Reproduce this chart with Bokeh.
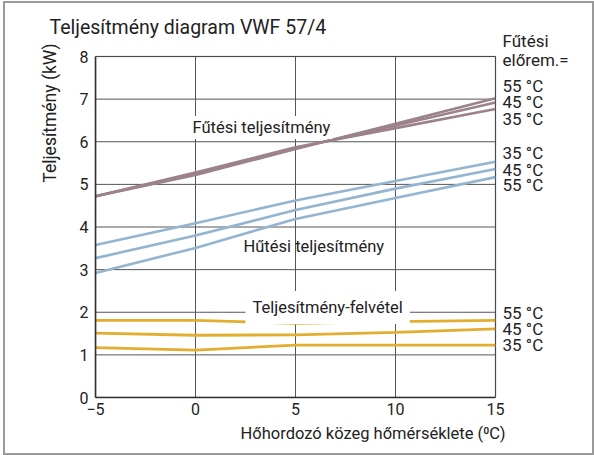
import math
from bokeh.plotting import figure
from bokeh.models import (Range1d, Label, BoxAnnotation, FixedTicker,
                          LinearAxis, Title)
from bokeh.embed import file_html
from bokeh.resources import INLINE

# ---- data ----
x_temps = [-5, 0, 5, 10, 15]
x_ticks = [-5, 0, 5, 10, 15]
y_ticks = [0, 1, 2, 3, 4, 5, 6, 7, 8]

heat_55 = [4.72, 5.22, 5.83, 6.42, 7.02]
heat_45 = [4.72, 5.25, 5.85, 6.38, 6.92]
heat_35 = [4.72, 5.28, 5.87, 6.32, 6.77]

cool_35 = [3.58, 4.09, 4.62, 5.08, 5.53]
cool_45 = [3.27, 3.80, 4.40, 4.90, 5.36]
cool_55 = [2.92, 3.51, 4.19, 4.68, 5.17]

pow_55 = [1.81, 1.81, 1.74, 1.78, 1.81]
pow_45 = [1.51, 1.46, 1.47, 1.53, 1.61]
pow_35 = [1.17, 1.11, 1.23, 1.23, 1.23]

title_text = "Teljesítmény diagram VWF 57/4"
y_title = "Teljesítmény (kW)"
x_title = "Hőhordozó közeg hőmérséklete (⁰C)"
heat_label = "Fűtési teljesítmény"
cool_label = "Hűtési teljesítmény"
pow_label = "Teljesítmény-felvétel"
legend_head = ["Fűtési", "előrem.="]
heat_order = ["55 °C", "45 °C", "35 °C"]
cool_order = ["35 °C", "45 °C", "55 °C"]
pow_order = ["55 °C", "45 °C", "35 °C"]

HEAT = "#9b8389"
COOL = "#93b5d2"
POW = "#e3ae2f"
FONT = "Roboto"
TXT = "#222222"
DARK = "#333333"
GRID = "#555555"

PX_PER_KW = 341 / 8.0      # vertical scale of the reference
PX_PER_C = 20.0            # horizontal scale of the reference

# canvas sits at (5, 3) on the page: 3px/1px margin + 2px page-frame border
p = figure(frame_width=402, frame_height=359,
           min_border_left=90, min_border_right=95,
           min_border_top=35, min_border_bottom=56,
           x_range=Range1d(-5, 15 + 2 / PX_PER_C),
           y_range=Range1d(0, 8 + 18 / PX_PER_KW),
           output_backend="svg", toolbar_location=None,
           background_fill_color="white", border_fill_color="white")
p.styles = {"border": "2px solid #9a9a9a", "margin-left": "3px", "margin-top": "1px"}

# pixel rows (page coordinates) for the right-hand labels: frame top 38px, y=0 at 397px
p.extra_y_ranges = {"px": Range1d(start=397, end=38)}

def dx(px):
    return (px - 95) / PX_PER_C - 5

def dy(py):
    return (397 - py) / PX_PER_KW

p.outline_line_color = None
p.grid.visible = False

for ax in (p.xaxis[0], p.yaxis[0]):
    ax.axis_line_color = DARK
    ax.axis_line_width = 1.6
    ax.major_tick_line_color = None
    ax.minor_tick_line_color = None
    ax.major_tick_out = 0
    ax.major_tick_in = 0
    ax.major_label_text_font = FONT
    ax.major_label_text_font_size = "16px"
    ax.major_label_text_color = TXT

p.xaxis.ticker = FixedTicker(ticks=x_ticks)
p.yaxis.ticker = FixedTicker(ticks=y_ticks)
p.xaxis.bounds = (x_ticks[0], x_ticks[-1])
p.yaxis.bounds = (y_ticks[0], y_ticks[-1])
p.xaxis.major_label_standoff = 5
p.yaxis.major_label_standoff = 7

# grid lines inside the 0..8 / -5..15 box
n_x, n_y = len(x_ticks), len(y_ticks)
p.segment(x0=x_ticks, y0=[y_ticks[0]] * n_x, x1=x_ticks, y1=[y_ticks[-1]] * n_x,
          line_color=GRID, line_width=1)
p.segment(x0=[x_ticks[0]] * n_y, y0=y_ticks, x1=[x_ticks[-1]] * n_y, y1=y_ticks,
          line_color=GRID, line_width=1)

for ys in (heat_35, heat_45, heat_55):
    p.line(x_temps, ys, line_color=HEAT, line_width=2.6)
for ys in (cool_35, cool_45, cool_55):
    p.line(x_temps, ys, line_color=COOL, line_width=2.6)
for ys in (pow_35, pow_45, pow_55):
    p.line(x_temps, ys, line_color=POW, line_width=2.8)

p.add_layout(BoxAnnotation(left=x_ticks[0], right=x_ticks[-1],
                           bottom=y_ticks[0], top=y_ticks[-1],
                           fill_color=None, line_color=DARK, line_width=1.6))

# right-hand labels as tick labels of an extra axis
right_rows = [40, 59, 85, 101.5, 118, 152.5, 169, 184.5, 312, 328, 344]
right_texts = legend_head + heat_order + cool_order + pow_order
rax = LinearAxis(y_range_name="px", ticker=FixedTicker(ticks=right_rows),
                 major_label_overrides={float(k): v for k, v in zip(right_rows, right_texts)},
                 axis_line_color=None, major_tick_line_color=None,
                 minor_tick_line_color=None, major_tick_out=0, major_tick_in=0,
                 major_label_standoff=5,
                 major_label_text_font=FONT, major_label_text_font_size="17px",
                 major_label_text_color=TXT)
p.add_layout(rax, "right")

# main title
p.title.text = title_text
p.title.align = "left"
p.title.offset = -46
p.title.text_font = FONT
p.title.text_font_size = "19.5px"
p.title.text_font_style = "normal"
p.title.text_color = TXT
p.title.vertical_align = "bottom"
p.title.standoff = 0

yt = Title(text=y_title, align="right", offset=5, text_font=FONT,
           text_font_size="17.5px", text_font_style="normal", text_color=TXT,
           vertical_align="middle", standoff=31)
p.add_layout(yt, "left")

xt = Title(text=x_title, align="right", offset=-8, text_font=FONT,
           text_font_size="16.5px", text_font_style="normal", text_color=TXT,
           vertical_align="middle", standoff=10)
p.add_layout(xt, "below")

def lab(text, px, py, size="16.5px", bg=None, pad=0):
    kw = {}
    if bg is not None:
        kw = dict(background_fill_color=bg, padding=pad)
    l = Label(x=dx(px), y=dy(py), text=text, text_font=FONT,
              text_font_size=size, text_color=TXT, text_align="left",
              text_baseline="middle", **kw)
    p.add_layout(l)

lab(heat_label, 190, 127, bg="white", pad=2)
lab(cool_label, 243, 246)
lab(pow_label, 245, 307, bg="white", pad=7)

open("out.html", "w").write(file_html(p, INLINE))
